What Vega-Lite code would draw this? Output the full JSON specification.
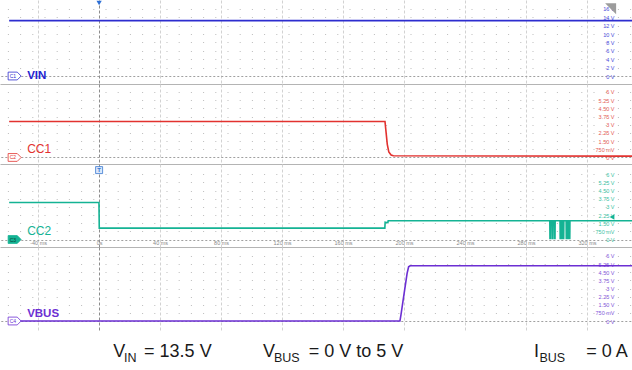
{
  "$schema": "https://vega.github.io/schema/vega-lite/v6.json",
  "padding": 0,
  "spacing": 0,
  "bounds": "flush",
  "background": "#ffffff",
  "config": {
    "view": {"stroke": null},
    "font": "Liberation Sans",
    "axisX": {"tickCount": 30, "grid": true, "gridColor": {"condition": {"test": "datum.value === 0", "value": "#8c8c8c"}, "value": "#d2d2d2"}, "gridDash": [3, 2], "ticks": false, "domainColor": "#b4b4b4", "labelFontSize": 5.5, "labelColor": "#8a8a8a", "labelBaseline": "bottom", "labelPadding": -2, "title": null},
    "axisY": {"tickCount": 30, "labelAlign": "right", "labelBaseline": "middle", "labelPadding": 2, "labelOverlap": false, "labelFontSize": 5.5, "ticks": false, "domain": false, "grid": true,
              "gridColor": {"condition": {"test": "datum.value === 0", "value": "#a0a0a0"}, "value": "#bcbcbc"},
              "gridDash": {"condition": {"test": "datum.value === 0", "value": [2, 2]}, "value": [1, 11.2]}, "gridDashOffset": 10.8, "title": null}
  },
  "datasets": {
    "vin": [{"t": -59, "v": 13.2}, {"t": 349.5, "v": 13.2}],
    "cc1": [{"t": -59, "v": 3.3}, {"t": 187.5, "v": 3.3}, {"t": 188, "v": 2.6}, {"t": 189, "v": 1.2}, {"t": 190, "v": 0.5}, {"t": 191.5, "v": 0.22}, {"t": 193, "v": 0.15}, {"t": 349.5, "v": 0.12}],
    "cc2": [{"t": -59, "v": 3.4}, {"t": -0.1, "v": 3.4}, {"t": 0.1, "v": 1.05}, {"t": 187.4, "v": 1.05}, {"t": 187.6, "v": 1.6}, {"t": 189.4, "v": 1.55}, {"t": 189.6, "v": 1.72},
      {"t": 295.6, "v": 1.72}, {"t": 295.7, "v": 0.1}, {"t": 296.0, "v": 0.1}, {"t": 296.1, "v": 1.72},
      {"t": 297.1, "v": 1.72}, {"t": 297.2, "v": 0.1}, {"t": 297.5, "v": 0.1}, {"t": 297.6, "v": 1.72},
      {"t": 298.6, "v": 1.72}, {"t": 298.7, "v": 0.1}, {"t": 299.0, "v": 0.1}, {"t": 299.1, "v": 1.72},
      {"t": 302.3, "v": 1.72}, {"t": 302.4, "v": 0.1}, {"t": 302.7, "v": 0.1}, {"t": 302.8, "v": 1.72},
      {"t": 303.3, "v": 1.72}, {"t": 303.4, "v": 0.1}, {"t": 303.7, "v": 0.1}, {"t": 303.8, "v": 1.72},
      {"t": 304.3, "v": 1.72}, {"t": 304.4, "v": 0.1}, {"t": 304.7, "v": 0.1}, {"t": 304.8, "v": 1.72},
      {"t": 306.3, "v": 1.72}, {"t": 306.4, "v": 0.1}, {"t": 306.7, "v": 0.1}, {"t": 306.8, "v": 1.72},
      {"t": 307.3, "v": 1.72}, {"t": 307.4, "v": 0.1}, {"t": 307.7, "v": 0.1}, {"t": 307.8, "v": 1.72},
      {"t": 308.3, "v": 1.72}, {"t": 308.4, "v": 0.1}, {"t": 308.7, "v": 0.1}, {"t": 308.8, "v": 1.72},
      {"t": 349.5, "v": 1.72}],
    "vbus": [{"t": -59, "v": 0}, {"t": 197.3, "v": 0}, {"t": 198, "v": 0.6}, {"t": 200, "v": 2.5}, {"t": 202, "v": 4.4}, {"t": 203, "v": 5.0}, {"t": 204, "v": 5.1}, {"t": 349.5, "v": 5.1}],
    "one": [{}]
  },
  "vconcat": [
    {
      "width": 632, "height": 84,
      "layer": [
        {"data": {"name": "vin"}, "mark": {"type": "line", "color": "#2d2dcf", "strokeWidth": 1.6},
         "encoding": {
           "x": {"field": "t", "type": "quantitative", "scale": {"domain": [-65, 349.5], "nice": false, "zero": false},
                 "axis": {"values": [-40, 0, 40, 80, 120, 160, 200, 240, 280, 320], "tickCount": 30, "labels": false, "domain": true}},
           "y": {"field": "v", "type": "quantitative", "scale": {"domain": [-1.9, 18.1], "nice": false, "zero": false},
                 "axis": {"orient": "right", "offset": -20, "tickCount": 30, "values": [0, 2, 4, 6, 8, 10, 12, 14, 16], "labelExpr": "datum.value + ' V'", "labelColor": "#4b4bdb"}},
           "order": {"value": null}}},
        {"data": {"name": "one"}, "mark": {"type": "point", "shape": "M-1,-0.6L0.4,-0.6L1,0L0.4,0.6L-1,0.6Z", "size": 169, "filled": true, "fill": "#ffffff", "stroke": "#2d2dcf", "strokeWidth": 0.8, "opacity": 1},
         "encoding": {"x": {"datum": -55.4, "type": "quantitative", "scale": {"domain": [-65, 349.5], "nice": false, "zero": false}},
                      "y": {"datum": 0, "type": "quantitative", "scale": {"domain": [-1.9, 18.1], "nice": false, "zero": false}}}},
        {"data": {"name": "one"}, "mark": {"type": "text", "text": "C1", "fontSize": 5, "color": "#2d2dcf"},
         "encoding": {"x": {"datum": -56.5, "type": "quantitative", "scale": {"domain": [-65, 349.5], "nice": false, "zero": false}},
                      "y": {"datum": 0, "type": "quantitative", "scale": {"domain": [-1.9, 18.1], "nice": false, "zero": false}}}},
        {"data": {"name": "one"}, "mark": {"type": "text", "text": "VIN", "fontSize": 11.5, "fontWeight": "bold", "align": "left", "baseline": "middle", "color": "#2424d0"},
         "encoding": {"x": {"datum": -47.2, "type": "quantitative", "scale": {"domain": [-65, 349.5], "nice": false, "zero": false}},
                      "y": {"datum": 0.1, "type": "quantitative", "scale": {"domain": [-1.9, 18.1], "nice": false, "zero": false}}}},
        {"data": {"name": "one"}, "mark": {"type": "point", "shape": "triangle-down", "size": 28, "filled": true, "color": "#2d6fd6", "opacity": 1},
         "encoding": {"x": {"datum": 0, "type": "quantitative", "scale": {"domain": [-65, 349.5], "nice": false, "zero": false}},
                      "y": {"datum": 17.4, "type": "quantitative", "scale": {"domain": [-1.9, 18.1], "nice": false, "zero": false}}}},
        {"data": {"name": "one"}, "mark": {"type": "point", "shape": "M-1,-1L1,-1L1,1Z", "size": 121, "filled": true, "color": "#9c9c9c", "opacity": 1},
         "encoding": {"x": {"datum": 335.5, "type": "quantitative", "scale": {"domain": [-65, 349.5], "nice": false, "zero": false}},
                      "y": {"datum": 16, "type": "quantitative", "scale": {"domain": [-1.9, 18.1], "nice": false, "zero": false}}}}
      ]
    },
    {
      "width": 632, "height": 80,
      "layer": [
        {"data": {"name": "cc1"}, "mark": {"type": "line", "color": "#e2322f", "strokeWidth": 1.6},
         "encoding": {
           "x": {"field": "t", "type": "quantitative", "scale": {"domain": [-65, 349.5], "nice": false, "zero": false},
                 "axis": {"values": [-40, 0, 40, 80, 120, 160, 200, 240, 280, 320], "tickCount": 30, "labels": false, "domain": true}},
           "y": {"field": "v", "type": "quantitative", "scale": {"domain": [-0.6, 6.73], "nice": false, "zero": false},
                 "axis": {"orient": "right", "offset": -20, "tickCount": 30, "values": [0, 0.75, 1.5, 2.25, 3, 3.75, 4.5, 5.25, 6], "labelExpr": "datum.value === 0 ? '0 V' : datum.value === 0.75 ? '750 mV' : datum.value === 3 ? '3 V' : datum.value === 6 ? '6 V' : format(datum.value, '.2f') + ' V'", "labelColor": "#e55a55"}},
           "order": {"value": null}}},
        {"data": {"name": "one"}, "mark": {"type": "point", "shape": "M-1,-0.6L0.4,-0.6L1,0L0.4,0.6L-1,0.6Z", "size": 169, "filled": true, "fill": "#ffffff", "stroke": "#e2322f", "strokeWidth": 0.8, "opacity": 1},
         "encoding": {"x": {"datum": -55.4, "type": "quantitative", "scale": {"domain": [-65, 349.5], "nice": false, "zero": false}},
                      "y": {"datum": 0, "type": "quantitative", "scale": {"domain": [-0.6, 6.73], "nice": false, "zero": false}}}},
        {"data": {"name": "one"}, "mark": {"type": "text", "text": "C2", "fontSize": 5, "color": "#e2322f"},
         "encoding": {"x": {"datum": -56.5, "type": "quantitative", "scale": {"domain": [-65, 349.5], "nice": false, "zero": false}},
                      "y": {"datum": 0, "type": "quantitative", "scale": {"domain": [-0.6, 6.73], "nice": false, "zero": false}}}},
        {"data": {"name": "one"}, "mark": {"type": "text", "text": "CC1", "fontSize": 12, "align": "left", "baseline": "middle", "color": "#e2322f"},
         "encoding": {"x": {"datum": -47.2, "type": "quantitative", "scale": {"domain": [-65, 349.5], "nice": false, "zero": false}},
                      "y": {"datum": 0.73, "type": "quantitative", "scale": {"domain": [-0.6, 6.73], "nice": false, "zero": false}}}}
      ]
    },
    {
      "width": 632, "height": 83,
      "layer": [
        {"data": {"name": "cc2"}, "mark": {"type": "line", "color": "#14b394", "strokeWidth": 1.6},
         "encoding": {
           "x": {"field": "t", "type": "quantitative", "scale": {"domain": [-65, 349.5], "nice": false, "zero": false},
                 "axis": {"values": [-40, 0, 40, 80, 120, 160, 200, 240, 280, 320], "tickCount": 30, "labels": true, "labelExpr": "datum.value === 0 ? '0s' : datum.value + ' ms'", "domain": true}},
           "y": {"field": "v", "type": "quantitative", "scale": {"domain": [-0.69, 6.95], "nice": false, "zero": false},
                 "axis": {"orient": "right", "offset": -20, "tickCount": 30, "values": [0, 0.75, 1.5, 2.25, 3, 3.75, 4.5, 5.25, 6], "labelExpr": "datum.value === 0 ? '0 V' : datum.value === 0.75 ? '750 mV' : datum.value === 3 ? '3 V' : datum.value === 6 ? '6 V' : format(datum.value, '.2f') + ' V'", "labelColor": "#3bbfa3"}},
           "order": {"value": null}}},
        {"data": {"name": "one"}, "mark": {"type": "point", "shape": "M-1,-0.6L0.4,-0.6L1,0L0.4,0.6L-1,0.6Z", "size": 169, "filled": true, "fill": "#14b394", "stroke": "#14b394", "strokeWidth": 0.8, "opacity": 1},
         "encoding": {"x": {"datum": -55.4, "type": "quantitative", "scale": {"domain": [-65, 349.5], "nice": false, "zero": false}},
                      "y": {"datum": 0, "type": "quantitative", "scale": {"domain": [-0.69, 6.95], "nice": false, "zero": false}}}},
        {"data": {"name": "one"}, "mark": {"type": "text", "text": "C3", "fontSize": 5, "color": "#0b3d33"},
         "encoding": {"x": {"datum": -56.5, "type": "quantitative", "scale": {"domain": [-65, 349.5], "nice": false, "zero": false}},
                      "y": {"datum": 0, "type": "quantitative", "scale": {"domain": [-0.69, 6.95], "nice": false, "zero": false}}}},
        {"data": {"name": "one"}, "mark": {"type": "text", "text": "CC2", "fontSize": 12, "align": "left", "baseline": "middle", "color": "#14b394"},
         "encoding": {"x": {"datum": -47.2, "type": "quantitative", "scale": {"domain": [-65, 349.5], "nice": false, "zero": false}},
                      "y": {"datum": 0.78, "type": "quantitative", "scale": {"domain": [-0.69, 6.95], "nice": false, "zero": false}}}},
        {"data": {"name": "one"}, "mark": {"type": "point", "shape": "square", "size": 49, "filled": true, "fill": "#dbe8fb", "stroke": "#3a78d0", "strokeWidth": 0.8, "opacity": 1},
         "encoding": {"x": {"datum": 0, "type": "quantitative", "scale": {"domain": [-65, 349.5], "nice": false, "zero": false}},
                      "y": {"datum": 6.39, "type": "quantitative", "scale": {"domain": [-0.69, 6.95], "nice": false, "zero": false}}}},
        {"data": {"name": "one"}, "mark": {"type": "text", "text": "T", "fontSize": 6, "fontWeight": "bold", "color": "#3a78d0"},
         "encoding": {"x": {"datum": 0, "type": "quantitative", "scale": {"domain": [-65, 349.5], "nice": false, "zero": false}},
                      "y": {"datum": 6.39, "type": "quantitative", "scale": {"domain": [-0.69, 6.95], "nice": false, "zero": false}}}},
        {"data": {"name": "one"}, "mark": {"type": "point", "shape": "triangle-left", "size": 30, "filled": true, "color": "#14b394", "opacity": 1},
         "encoding": {"x": {"datum": 336.4, "type": "quantitative", "scale": {"domain": [-65, 349.5], "nice": false, "zero": false}},
                      "y": {"datum": 2.07, "type": "quantitative", "scale": {"domain": [-0.69, 6.95], "nice": false, "zero": false}}}}
      ]
    },
    {
      "width": 632, "height": 83,
      "layer": [
        {"data": {"name": "vbus"}, "mark": {"type": "line", "color": "#6c2fd3", "strokeWidth": 1.6},
         "encoding": {
           "x": {"field": "t", "type": "quantitative", "scale": {"domain": [-65, 349.5], "nice": false, "zero": false},
                 "axis": {"values": [-40, 0, 40, 80, 120, 160, 200, 240, 280, 320], "tickCount": 30, "labels": false, "domain": false}},
           "y": {"field": "v", "type": "quantitative", "scale": {"domain": [-0.83, 6.83], "nice": false, "zero": false},
                 "axis": {"orient": "right", "offset": -20, "tickCount": 30, "values": [0, 0.75, 1.5, 2.25, 3, 3.75, 4.5, 5.25, 6], "labelExpr": "datum.value === 0 ? '0 V' : datum.value === 0.75 ? '750 mV' : datum.value === 3 ? '3 V' : datum.value === 6 ? '6 V' : format(datum.value, '.2f') + ' V'", "labelColor": "#8455da"}},
           "order": {"value": null}}},
        {"data": {"name": "one"}, "mark": {"type": "point", "shape": "M-1,-0.6L0.4,-0.6L1,0L0.4,0.6L-1,0.6Z", "size": 169, "filled": true, "fill": "#ffffff", "stroke": "#6c2fd3", "strokeWidth": 0.8, "opacity": 1},
         "encoding": {"x": {"datum": -55.4, "type": "quantitative", "scale": {"domain": [-65, 349.5], "nice": false, "zero": false}},
                      "y": {"datum": 0, "type": "quantitative", "scale": {"domain": [-0.83, 6.83], "nice": false, "zero": false}}}},
        {"data": {"name": "one"}, "mark": {"type": "text", "text": "C4", "fontSize": 5, "color": "#6c2fd3"},
         "encoding": {"x": {"datum": -56.5, "type": "quantitative", "scale": {"domain": [-65, 349.5], "nice": false, "zero": false}},
                      "y": {"datum": 0, "type": "quantitative", "scale": {"domain": [-0.83, 6.83], "nice": false, "zero": false}}}},
        {"data": {"name": "one"}, "mark": {"type": "text", "text": "VBUS", "fontSize": 11.5, "fontWeight": "bold", "align": "left", "baseline": "middle", "color": "#6c2fd3"},
         "encoding": {"x": {"datum": -47.2, "type": "quantitative", "scale": {"domain": [-65, 349.5], "nice": false, "zero": false}},
                      "y": {"datum": 0.65, "type": "quantitative", "scale": {"domain": [-0.83, 6.83], "nice": false, "zero": false}}}}
      ]
    },
    {
      "width": 632, "height": 40,
      "data": {"name": "one"},
      "encoding": {"y": {"datum": 13, "type": "quantitative", "scale": {"domain": [0, 40]}, "axis": null}},
      "layer": [
        {"mark": {"type": "text", "text": "V", "fontSize": 18, "align": "left", "baseline": "alphabetic", "color": "#1a1a1a"},
         "encoding": {"x": {"datum": 9.2, "type": "quantitative", "scale": {"domain": [-65, 349.5], "nice": false, "zero": false}, "axis": null}}},
        {"mark": {"type": "text", "text": "IN", "fontSize": 12.5, "align": "left", "baseline": "alphabetic", "dy": 5, "color": "#1a1a1a"},
         "encoding": {"x": {"datum": 16.4, "type": "quantitative", "scale": {"domain": [-65, 349.5], "nice": false, "zero": false}, "axis": null}}},
        {"mark": {"type": "text", "text": "= 13.5 V", "fontSize": 18, "align": "left", "baseline": "alphabetic", "color": "#1a1a1a"},
         "encoding": {"x": {"datum": 29.5, "type": "quantitative", "scale": {"domain": [-65, 349.5], "nice": false, "zero": false}, "axis": null}}},
        {"mark": {"type": "text", "text": "V", "fontSize": 18, "align": "left", "baseline": "alphabetic", "color": "#1a1a1a"},
         "encoding": {"x": {"datum": 107.5, "type": "quantitative", "scale": {"domain": [-65, 349.5], "nice": false, "zero": false}, "axis": null}}},
        {"mark": {"type": "text", "text": "BUS", "fontSize": 12.5, "align": "left", "baseline": "alphabetic", "dy": 5, "color": "#1a1a1a"},
         "encoding": {"x": {"datum": 114.7, "type": "quantitative", "scale": {"domain": [-65, 349.5], "nice": false, "zero": false}, "axis": null}}},
        {"mark": {"type": "text", "text": "= 0 V to 5 V", "fontSize": 18, "align": "left", "baseline": "alphabetic", "color": "#1a1a1a"},
         "encoding": {"x": {"datum": 137.5, "type": "quantitative", "scale": {"domain": [-65, 349.5], "nice": false, "zero": false}, "axis": null}}},
        {"mark": {"type": "text", "text": "I", "fontSize": 18, "align": "left", "baseline": "alphabetic", "color": "#1a1a1a"},
         "encoding": {"x": {"datum": 285.2, "type": "quantitative", "scale": {"domain": [-65, 349.5], "nice": false, "zero": false}, "axis": null}}},
        {"mark": {"type": "text", "text": "BUS", "fontSize": 12.5, "align": "left", "baseline": "alphabetic", "dy": 5, "color": "#1a1a1a"},
         "encoding": {"x": {"datum": 288.8, "type": "quantitative", "scale": {"domain": [-65, 349.5], "nice": false, "zero": false}, "axis": null}}},
        {"mark": {"type": "text", "text": "= 0 A", "fontSize": 18, "align": "left", "baseline": "alphabetic", "color": "#1a1a1a"},
         "encoding": {"x": {"datum": 319.5, "type": "quantitative", "scale": {"domain": [-65, 349.5], "nice": false, "zero": false}, "axis": null}}}
      ]
    }
  ]
}
